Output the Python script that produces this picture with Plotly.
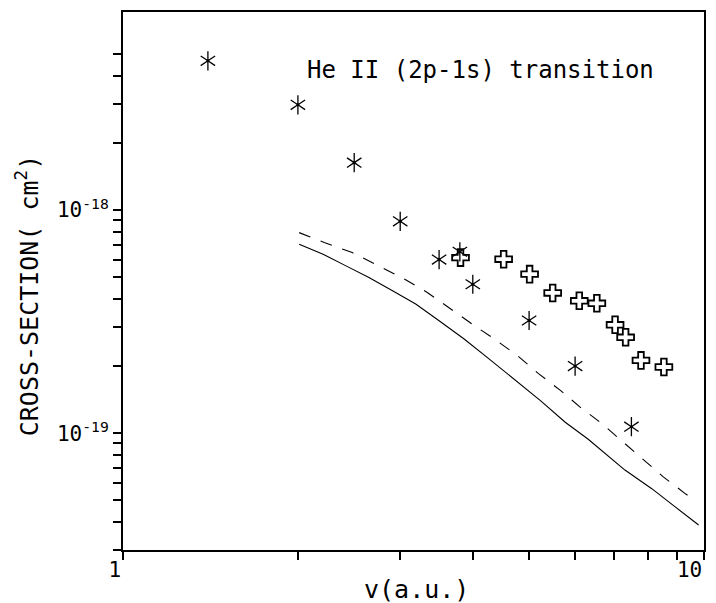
import plotly.graph_objects as go

# Asterisk data (experiment 1)
star_v = [1.4, 2.0, 2.5, 3.0, 3.5, 3.8, 4.0, 5.0, 6.0, 7.5]
star_sigma = [4.66e-18, 2.96e-18, 1.63e-18, 8.9e-19, 6.0e-19, 6.5e-19, 4.65e-19, 3.2e-19, 2.0e-19, 1.07e-19]

# Open-cross data (experiment 2)
cross_v = [3.81, 4.52, 5.01, 5.49, 6.10, 6.54, 7.03, 7.33, 7.79, 8.53]
cross_sigma = [6.12e-19, 6.02e-19, 5.16e-19, 4.25e-19, 3.92e-19, 3.82e-19, 3.06e-19, 2.69e-19, 2.12e-19, 1.98e-19]

# Solid theory curve
solid_v = [2.01, 2.21, 2.42, 2.65, 2.91, 3.19, 3.50, 3.86, 4.26, 4.67, 5.23, 5.77, 6.32, 7.31, 8.12, 8.91, 9.79]
solid_sigma = [7.03e-19, 6.34e-19, 5.62e-19, 4.99e-19, 4.35e-19, 3.79e-19, 3.19e-19, 2.65e-19, 2.16e-19,
               1.78e-19, 1.40e-19, 1.12e-19, 9.4e-20, 6.84e-20, 5.66e-20, 4.69e-20, 3.88e-20]

# Dashed theory curve
dash_v = [2.01, 2.22, 2.48, 2.76, 3.05, 3.34, 3.66, 4.0, 4.35, 4.77, 5.19, 5.66, 6.12, 6.67, 7.23, 7.81, 8.51, 9.27, 9.61]
dash_sigma = [7.92e-19, 7.15e-19, 6.45e-19, 5.62e-19, 4.91e-19, 4.27e-19, 3.60e-19, 3.07e-19, 2.65e-19, 2.23e-19,
              1.85e-19, 1.556e-19, 1.31e-19, 1.105e-19, 9.21e-20, 7.71e-20, 6.38e-20, 5.38e-20, 5.02e-20]

x_tickvals = [1, 10]
x_ticktext = ["1", "10"]
x_minor = [2, 3, 4, 5, 6, 7, 8, 9]
y_tickvals = [1e-19, 1e-18]
y_ticktext = ["10<sup>-19</sup>", "10<sup>-18</sup>"]
y_minor = [3e-20, 4e-20, 5e-20, 6e-20, 7e-20, 8e-20, 9e-20,
           2e-19, 3e-19, 4e-19, 5e-19, 6e-19, 7e-19, 8e-19, 9e-19,
           2e-18, 3e-18, 4e-18, 5e-18]

FONT = "DejaVu Sans Mono"
fig = go.Figure()

fig.add_trace(go.Scatter(x=solid_v, y=solid_sigma, mode="lines",
                         line=dict(color="black", width=1.1), showlegend=False))
fig.add_trace(go.Scatter(x=dash_v, y=dash_sigma, mode="lines",
                         line=dict(color="black", width=1.1, dash="12px,11px"), showlegend=False))
for sym in ["y-up-open", "y-down-open"]:
    fig.add_trace(go.Scatter(x=star_v, y=star_sigma, mode="markers",
                             marker=dict(symbol=sym, size=12, color="black",
                                         line=dict(color="black", width=1.3)),
                             showlegend=False))
fig.add_trace(go.Scatter(x=star_v, y=star_sigma, mode="markers",
                         marker=dict(symbol="circle", size=3, color="black"), showlegend=False))
fig.add_trace(go.Scatter(x=cross_v, y=cross_sigma, mode="markers",
                         marker=dict(symbol="cross-open", size=14, color="black",
                                     line=dict(color="black", width=1.8)),
                         showlegend=False))

axis_common = dict(ticks="outside", ticklen=8, tickwidth=1.5, tickcolor="black",
                   showline=True, linecolor="black", linewidth=2, mirror=True,
                   showgrid=False, zeroline=False, tickfont=dict(size=21, family=FONT))

fig.update_layout(
    width=716, height=603, autosize=False,
    margin=dict(l=123, r=10, t=10, b=53),
    paper_bgcolor="white", plot_bgcolor="white",
    font=dict(family=FONT, color="black", size=18),
    xaxis=dict(type="log", range=[0, 1], tickvals=x_tickvals, ticktext=x_ticktext,
               ticklabelposition="outside left",
               minor=dict(tickvals=x_minor, ticks="outside", ticklen=8, tickwidth=1.5,
                          tickcolor="black", showgrid=False),
               **axis_common),
    yaxis=dict(type="log", range=[-19.523, -17.113], tickvals=y_tickvals, ticktext=y_ticktext,
               minor=dict(tickvals=y_minor, ticks="outside", ticklen=8, tickwidth=1.5,
                          tickcolor="black", showgrid=False),
               **axis_common),
    annotations=[
        dict(text="He II (2p-1s) transition", xref="paper", yref="paper",
             x=(306 - 123) / 583, y=1 - (68 - 10) / 540, xanchor="left", yanchor="middle",
             showarrow=False, font=dict(size=24, family=FONT)),
        dict(text="v(a.u.)", xref="paper", yref="paper",
             x=(418 - 123) / 583, y=-(590 - 550) / 540, xanchor="center", yanchor="middle",
             showarrow=False, font=dict(size=25, family=FONT)),
        dict(text="CROSS-SECTION( cm<sup>2</sup>)", xref="paper", yref="paper",
             x=(28 - 123) / 583, y=1 - (295 - 10) / 540, xanchor="center", yanchor="middle",
             textangle=-90, showarrow=False, font=dict(size=25, family=FONT)),
    ],
)

fig.write_html("out.html", config={"responsive": False}, default_width="716px", default_height="603px")
